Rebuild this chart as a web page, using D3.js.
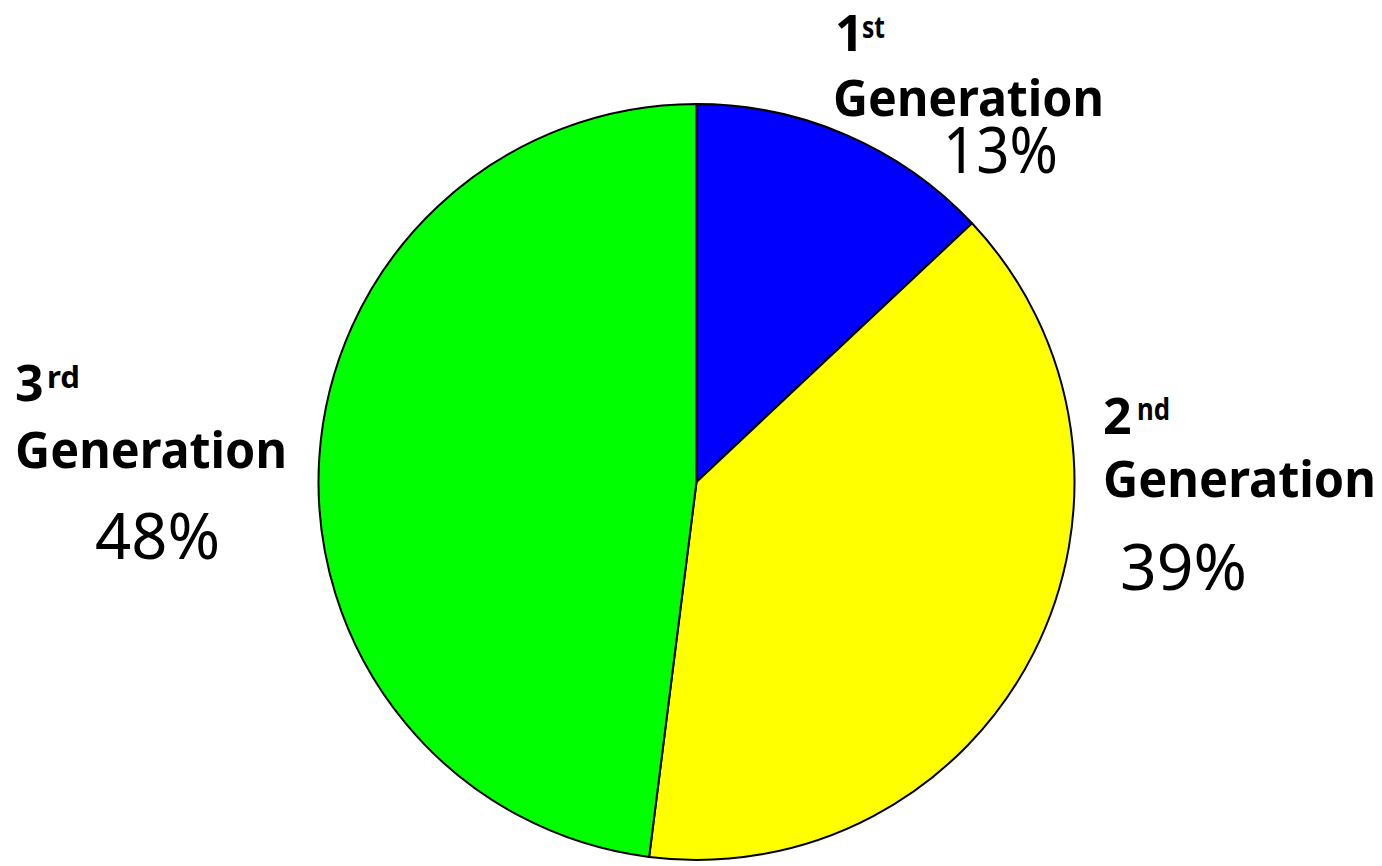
<!DOCTYPE html>
<html>
<head>
<meta charset="utf-8">
<script src="https://cdn.jsdelivr.net/npm/d3@7"></script>
<style>
  html, body { margin: 0; padding: 0; background: #fff; }
  svg { display: block; }
  text { font-family: "Comic Sans MS", "Noto Sans", sans-serif; fill: #000; }
</style>
</head>
<body>
<svg id="chart" width="1382" height="866"></svg>
<script>
// ---- data ----
const categories = ["1st Generation", "2nd Generation", "3rd Generation"];
const ordinals = ["1", "2", "3"];
const suffixes = ["st", "nd", "rd"];
const words = ["Generation", "Generation", "Generation"];
const values = [13, 39, 48];
const colors = ["#0000FF", "#FFFF00", "#00FF00"];

// ---- layout ----
const W = 1382, H = 866;
const cx = 696.5, cy = 482, R = 378;

// label layout (left x, baselines, widths)
const labelLayout = [
  { x: 835, numBase: 51, supX: 862, supBase: 38, supW: 23, genX: 833, genBase: 116, genW: 271, pctX: 943, pctBase: 173, pctW: 115 },
  { x: 1103, numBase: 434, supX: 1137, supBase: 420, supW: 33, genX: 1103, genBase: 497, genW: 273, pctX: 1120, pctBase: 590, pctW: 127 },
  { x: 15, numBase: 401, supX: 47, supBase: 388, supW: 33, genX: 15, genBase: 468, genW: 272, pctX: 95, pctBase: 559, pctW: 125 }
];

const svg = d3.select("#chart");

const data = categories.map((c, i) => ({ cat: c, value: values[i], color: colors[i] }));
const pie = d3.pie().sort(null).value(d => d.value);
const arc = d3.arc().innerRadius(0).outerRadius(R);

const g = svg.append("g").attr("transform", `translate(${cx},${cy})`);
g.selectAll("path")
  .data(pie(data))
  .join("path")
  .attr("d", arc)
  .attr("fill", d => d.data.color)
  .attr("stroke", "#000")
  .attr("stroke-width", 2)
  .attr("stroke-linejoin", "round");

const labels = svg.append("g");
data.forEach((d, i) => {
  const L = labelLayout[i];
  labels.append("text")
    .attr("x", L.x).attr("y", L.numBase)
    .attr("font-size", 50).attr("font-weight", "bold")
    .text(ordinals[i]);
  labels.append("text")
    .attr("x", L.supX).attr("y", L.supBase)
    .attr("font-size", 30).attr("font-weight", "bold")
    .attr("textLength", L.supW).attr("lengthAdjust", "spacingAndGlyphs")
    .text(suffixes[i]);
  labels.append("text")
    .attr("x", L.genX).attr("y", L.genBase)
    .attr("font-size", 50).attr("font-weight", "bold")
    .attr("textLength", L.genW).attr("lengthAdjust", "spacingAndGlyphs")
    .text(words[i]);
  labels.append("text")
    .attr("x", L.pctX).attr("y", L.pctBase)
    .attr("font-size", 64)
    .attr("textLength", L.pctW).attr("lengthAdjust", "spacingAndGlyphs")
    .text(d.value + "%");
});
</script>
</body>
</html>
